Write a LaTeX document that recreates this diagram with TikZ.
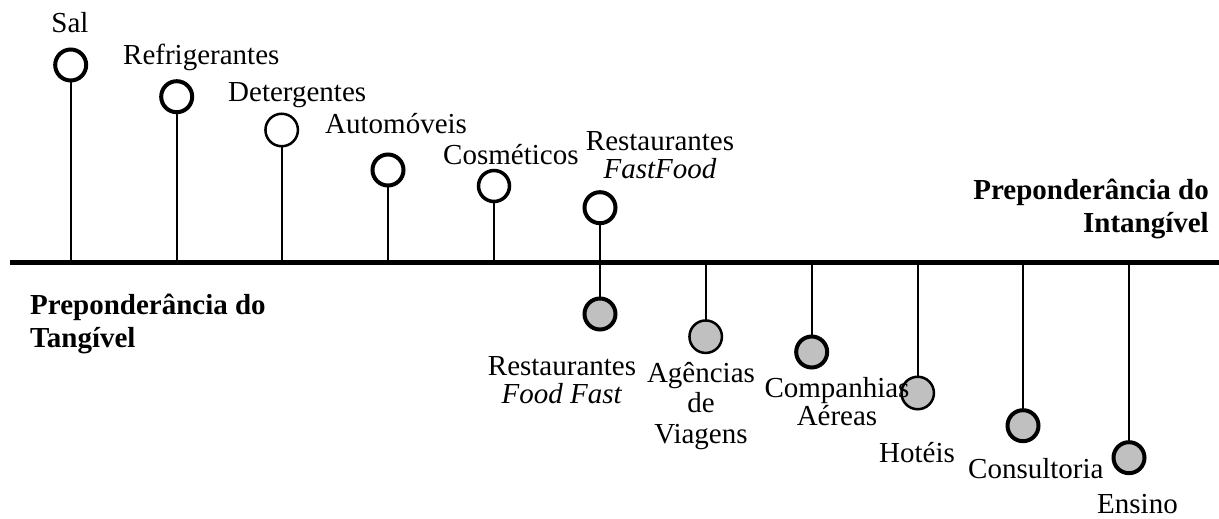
\documentclass[tikz,border=0pt]{standalone}
\usepackage{fontspec}
\setmainfont{Liberation Serif}
\definecolor{dotgray}{HTML}{C0C0C0}
\begin{document}
\begin{tikzpicture}[x=1pt,y=-1pt,
  lbl/.style={inner sep=0pt,font=\fontsize{29}{28}\selectfont},
  blbl/.style={inner sep=0pt,font=\fontsize{29}{33}\selectfont\bfseries},
  dotthick/.style={circle,draw,line width=4pt,minimum size=31pt,inner sep=0pt},
  dotthin/.style={circle,draw,line width=2.5pt,minimum size=32.5pt,inner sep=0pt},
  upper/.style={fill=white},
  lower/.style={fill=dotgray},
  stem/.style={line width=2pt},
  axis/.style={line width=5pt}]
\useasboundingbox (0,0) rectangle (1219,519);
% axis
\coordinate (axL) at (10,262);
\coordinate (axR) at (1219,262);
\draw[axis] (axL) -- (axR);
% base points
\coordinate (b1) at (70.7,262);
\coordinate (b2) at (176.7,262);
\coordinate (b3) at (281.7,262);
\coordinate (b4) at (388,262);
\coordinate (b5) at (494,262);
\coordinate (b6) at (600,262);
\coordinate (b7) at (705.7,262);
\coordinate (b8) at (811.7,262);
\coordinate (b9) at (917.7,262);
\coordinate (b10) at (1023,262);
\coordinate (b11) at (1129,262);
% circle centres
\path (70.7,65) coordinate (c1) (176.7,96.7) coordinate (c2) (281.7,130) coordinate (c3)
      (388,170) coordinate (c4) (494,186) coordinate (c5) (600,207.7) coordinate (c6)
      (600,314) coordinate (d1) (705.7,336.7) coordinate (d2) (811.7,352) coordinate (d3)
      (917.7,393) coordinate (d4) (1023,425.7) coordinate (d5) (1129,457.7) coordinate (d6);
% stems
\draw[stem] (c1) -- (b1);
\draw[stem] (c2) -- (b2);
\draw[stem] (c3) -- (b3);
\draw[stem] (c4) -- (b4);
\draw[stem] (c5) -- (b5);
\draw[stem] (c6) -- (b6);
\draw[stem] (d1) -- (b6);
\draw[stem] (d2) -- (b7);
\draw[stem] (d3) -- (b8);
\draw[stem] (d4) -- (b9);
\draw[stem] (d5) -- (b10);
\draw[stem] (d6) -- (b11);
% circles
\node[dotthick,upper] (u1) at (c1) {};
\node[dotthick,upper] (u2) at (c2) {};
\node[dotthin,upper]  (u3) at (c3) {};
\node[dotthick,upper] (u4) at (c4) {};
\node[dotthick,upper,line width=3.5pt] (u5) at (c5) {};
\node[dotthick,upper] (u6) at (c6) {};
\node[dotthick,lower] (l1) at (d1) {};
\node[dotthin,lower]  (l2) at (d2) {};
\node[dotthick,lower] (l3) at (d3) {};
\node[dotthin,lower]  (l4) at (d4) {};
\node[dotthick,lower] (l5) at (d5) {};
\node[dotthick,lower] (l6) at (d6) {};
% upper labels
\node[lbl,anchor=base] (t1) at (70,33) {Sal};
\node[lbl,anchor=base west] (t2) at (123,65) {Refrigerantes};
\node[lbl,anchor=base west] (t3) at (228,102) {Detergentes};
\node[lbl,anchor=base west] (t4) at (325,133) {Automóveis};
\node[lbl,anchor=base west] (t5) at (443,164) {Cosméticos};
\node[lbl,anchor=base,align=center] (t6) at (660,178) {Restaurantes\\\textit{FastFood}};
% lower labels
\node[lbl,anchor=base,align=center] (s1) at (562,403) {Restaurantes\\\textit{Food Fast}};
\node[lbl,anchor=base,align=center,font=\fontsize{29}{30.5}\selectfont] (s2) at (701,443) {Agências\\de\\Viagens};
\node[lbl,anchor=base,align=center] (s3) at (837,425) {Companhias\\Aéreas};
\node[lbl,anchor=base west] (s4) at (879,462) {Hotéis};
\node[lbl,anchor=base west] (s5) at (968,478) {Consultoria};
\node[lbl,anchor=base west] (s6) at (1097,513) {Ensino};
% side labels
\node[blbl,anchor=base east,align=right] (r1) at (1209,232) {Preponderância do\\Intangível};
\node[blbl,anchor=base west,align=left] (r2) at (30,347) {Preponderância do\\Tangível};
\end{tikzpicture}
\end{document}
